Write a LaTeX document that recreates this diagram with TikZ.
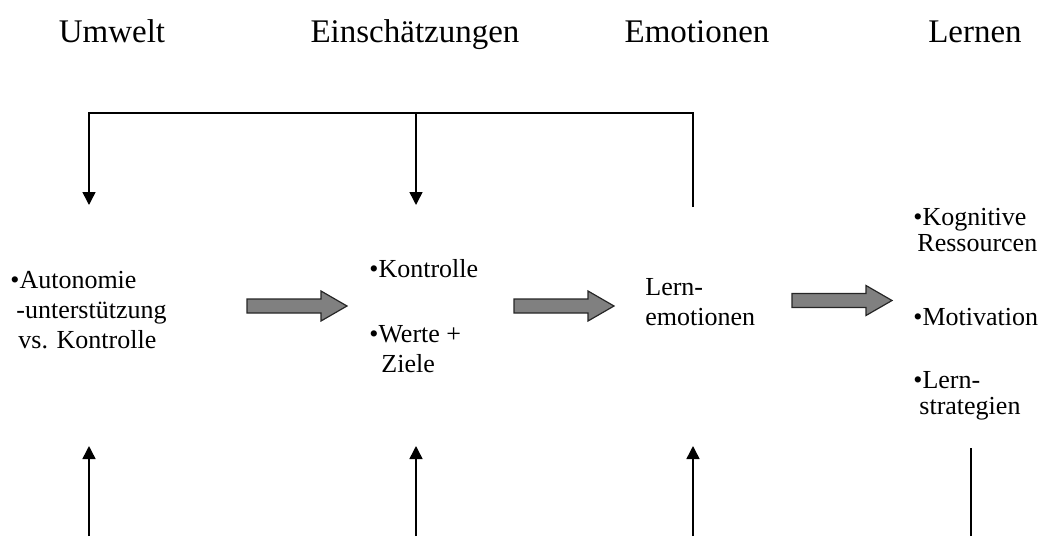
\documentclass[tikz,border=0pt]{standalone}
\usepackage{fontspec}
\setmainfont{Liberation Serif}
\usetikzlibrary{arrows.meta}
\newcommand\bul{\textbullet}
\begin{document}
\begin{tikzpicture}[x=0.5pt,y=-0.5pt,
  title/.style={font=\fontsize{16.5}{20}\selectfont, anchor=base, inner sep=0pt},
  body/.style={font=\fontsize{13}{15}\selectfont, anchor=base west, inner sep=0pt},
  bodytight/.style={font=\fontsize{13}{13}\selectfont, anchor=base west, inner sep=0pt},
  conn/.style={line width=0.75pt, draw=black},
  tip/.style={-{Triangle[width=6.5pt,length=6.5pt]}},
  blockarrow/.style={fill=black!50, draw=black!85, line width=0.6pt, line join=miter},
  barrow/.pic={\filldraw[blockarrow] (0,-7) -- (74,-7) -- (74,-15) -- (100,0) -- (74,15) -- (74,7) -- (0,7) -- cycle;}]
\useasboundingbox (0,0) rectangle (1049,536);

% titles
\node[title] (tU) at (112,42) {Umwelt};
\node[title] (tE) at (415,42) {Einschätzungen};
\node[title] (tM) at (697,42) {Emotionen};
\node[title] (tL) at (975,42) {Lernen};

% text blocks
\node[body] (u1) at (10,288) {\begin{tabular}[t]{@{}l@{}}\bul Autonomie\\ \hspace{3pt}-unterstützung\\ \hspace{4pt}vs. Kontrolle\end{tabular}};
\node[body] (e1) at (369,277) {\bul Kontrolle};
\node[body] (e2) at (369,342) {\begin{tabular}[t]{@{}l@{}}\bul Werte +\\ \hspace{6pt}Ziele\end{tabular}};
\node[body] (em) at (645,295) {\begin{tabular}[t]{@{}l@{}}Lern-\\ emotionen\end{tabular}};
\node[bodytight] (l1) at (913,225) {\begin{tabular}[t]{@{}l@{}}\bul Kognitive\\ \hspace{2pt}Ressourcen\end{tabular}};
\node[body] (l2) at (913,325) {\bul Motivation};
\node[bodytight] (l3) at (913,388) {\begin{tabular}[t]{@{}l@{}}\bul Lern-\\ \hspace{3pt}strategien\end{tabular}};

% block arrows
\pic at (247,306) {barrow};
\pic at (514,306) {barrow};
\pic at (792,300.5) {barrow};

% feedback connectors (top)
\coordinate (fbE) at (693,207);
\coordinate (cE) at (693,113);
\coordinate (cU) at (89,113);
\coordinate (cK) at (416,113);
\coordinate (fbU) at (89,205);
\coordinate (fbK) at (416,205);
\draw[conn,tip] (fbE) -- (cE) -- (cU) -- (fbU);
\draw[conn,tip] (cK) -- (fbK);

% feedback connectors (bottom)
\coordinate (bU) at (89,536);
\coordinate (bK) at (416,536);
\coordinate (bM) at (693,536);
\coordinate (bL) at (971,536);
\coordinate (aU) at (89,446);
\coordinate (aK) at (416,446);
\coordinate (aM) at (693,446);
\coordinate (aL) at (971,448);
\draw[conn,tip] (bU) -- (aU);
\draw[conn,tip] (bK) -- (aK);
\draw[conn,tip] (bM) -- (aM);
\draw[conn] (bL) -- (aL);
\end{tikzpicture}
\end{document}
